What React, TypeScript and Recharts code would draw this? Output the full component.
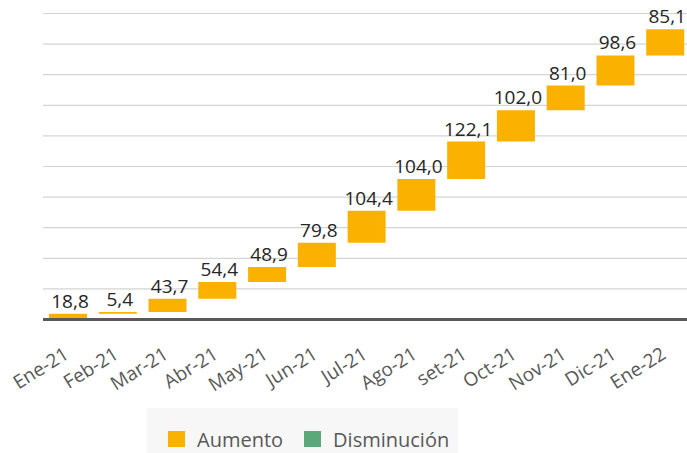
import React from 'react';
import { BarChart, Bar, XAxis, YAxis, CartesianGrid, LabelList, Legend } from 'recharts';

const months = ['Ene-21', 'Feb-21', 'Mar-21', 'Abr-21', 'May-21', 'Jun-21', 'Jul-21', 'Ago-21', 'set-21', 'Oct-21', 'Nov-21', 'Dic-21', 'Ene-22'];
const increases = [18.8, 5.4, 43.7, 54.4, 48.9, 79.8, 104.4, 104.0, 122.1, 102.0, 81.0, 98.6, 85.1];
const decreases = [0, 0, 0, 0, 0, 0, 0, 0, 0, 0, 0, 0, 0];
const yTicks = [0, 100, 200, 300, 400, 500, 600, 700, 800, 900, 1000];

const ORANGE = '#FBB100';
const GREEN = '#5BA97B';
const FONT = '"Open Sans", sans-serif';

// waterfall: invisible base bar carries the running total
let running = 0;
const data = months.map((month, i) => {
  const row = { month, base: running, aumento: increases[i], disminucion: decreases[i] };
  running += increases[i] - decreases[i];
  return row;
});

const fmt = (v: number) => v.toFixed(1).replace('.', ',');

const MonthTick = (props: any) => {
  const { x, y, payload } = props;
  return (
    <g transform={`translate(${x + 2},${y + 30}) rotate(-32)`}>
      <text textAnchor="end" fill="#595959" fontSize={19} fontFamily={FONT}>
        {payload.value}
      </text>
    </g>
  );
};

const ValueLabel = (props: any) => {
  const { x, y, width, value } = props;
  return (
    <text x={x + width / 2 + 2} y={y - 6} textAnchor="middle" fill="#262626" fontSize={19} fontFamily={FONT}>
      {fmt(value)}
    </text>
  );
};

const LegendBox = (props: any) => {
  const items = (props.payload || []).filter((p: any) => p.type !== 'none');
  return (
    <div style={{ display: 'flex', alignItems: 'center', height: 45, paddingLeft: 21, paddingTop: 17, background: '#f7f7f7', boxSizing: 'border-box' }}>
      {items.map((p: any, i: number) => (
        <div key={i} style={{ display: 'flex', alignItems: 'center', marginRight: 21 }}>
          <span style={{ width: 17, height: 16, background: p.color, display: 'inline-block', marginRight: 12 }} />
          <span style={{ fontSize: 20, color: '#595959', fontFamily: FONT }}>{p.value}</span>
        </div>
      ))}
    </div>
  );
};

export default function App() {
  return (
    <div style={{ position: 'fixed', left: 0, top: 0, width: 687, height: 453, overflow: 'hidden', background: '#fff' }}>
      <BarChart width={700} height={453} data={data} margin={{ top: 13.5, right: 10, bottom: 93.5, left: 43 }} barSize={38}>
        <CartesianGrid vertical={false} stroke="#d4d4d4" strokeWidth={1.2} />
        <YAxis hide domain={[0, 1000]} ticks={yTicks} />
        <XAxis
          dataKey="month"
          height={40}
          interval={0}
          tickLine={false}
          axisLine={{ stroke: '#595959', strokeWidth: 3 }}
          tick={<MonthTick />}
        />
        <Bar dataKey="base" stackId="w" fill="transparent" legendType="none" isAnimationActive={false} />
        <Bar dataKey="aumento" name="Aumento" stackId="w" fill={ORANGE} isAnimationActive={false}>
          <LabelList dataKey="aumento" content={<ValueLabel />} />
        </Bar>
        <Bar dataKey="disminucion" name="Disminución" stackId="w" fill={GREEN} isAnimationActive={false} />
        <Legend
          layout="horizontal"
          verticalAlign="middle"
          align="center"
          content={<LegendBox />}
          wrapperStyle={{ left: 147, top: 408, width: 311, height: 45 }}
        />
      </BarChart>
    </div>
  );
}
